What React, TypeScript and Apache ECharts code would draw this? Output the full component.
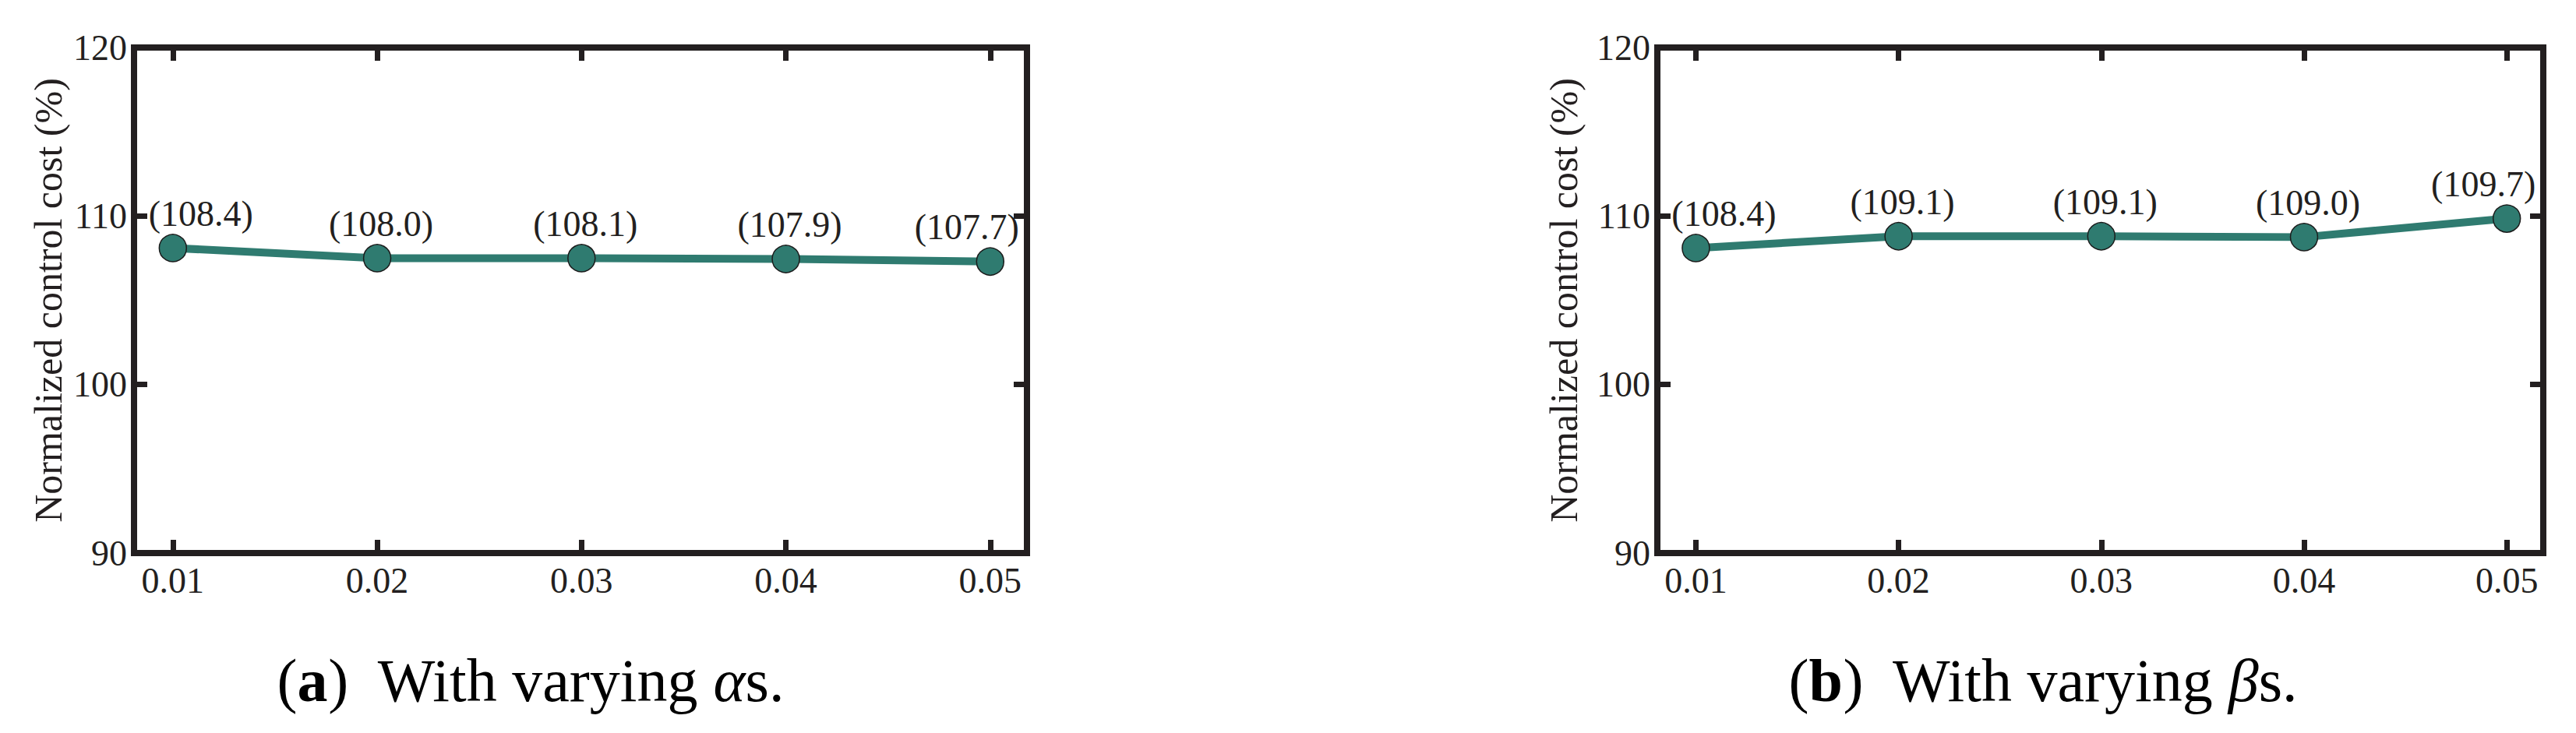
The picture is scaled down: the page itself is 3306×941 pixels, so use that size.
import React, { useEffect, useRef } from 'react';
import * as echarts from 'echarts';

// ---- data ----
const xValues = [0.01, 0.02, 0.03, 0.04, 0.05];
const yTicks = [90, 100, 110, 120];
// printed labels
const alphaLabels = [108.4, 108.0, 108.1, 107.9, 107.7];
const betaLabels = [108.4, 109.1, 109.1, 109.0, 109.7];
// where the markers sit on the y scale
const alphaPlotted = [108.1, 107.5, 107.5, 107.45, 107.3];
const betaPlotted = [108.1, 108.8, 108.8, 108.75, 109.85];
const yTitle = 'Normalized control cost (%)';

const INK = '#231f20';
const TEAL = '#2f7b70';
const FONT = '"Liberation Serif", "Times New Roman", Times, serif';

function labelShift(i: number, n: number) {
  if (i === 0) return 36;
  if (i === n - 1) return -30;
  return 5;
}

function buildPanel(idx: number, left: number, width: number, nameGap: number, plotted: number[], labels: number[]) {
  const axisLine = { lineStyle: { color: INK, width: 8, cap: 'square' } };
  const tick = { inside: true, length: 17, lineStyle: { color: INK, width: 7 } };
  const grid = { left, top: 61, width, height: 649 };
  const xMin = 0.0081;
  const xMax = 0.0518;
  const xAxes = [
    {
      gridIndex: idx,
      type: 'value',
      position: 'bottom',
      min: xMin,
      max: xMax,
      axisLine,
      axisTick: { ...tick, customValues: xValues },
      axisLabel: {
        customValues: xValues,
        formatter: (v: number) => v.toFixed(2),
        fontSize: 46,
        fontFamily: FONT,
        color: INK,
        margin: 12,
      },
      splitLine: { show: false },
    },
    {
      gridIndex: idx,
      type: 'value',
      position: 'top',
      min: xMin,
      max: xMax,
      axisLine,
      axisTick: { ...tick, customValues: xValues },
      axisLabel: { show: false },
      splitLine: { show: false },
    },
  ];
  const yAxes = [
    {
      gridIndex: idx,
      type: 'value',
      position: 'left',
      min: yTicks[0],
      max: yTicks[yTicks.length - 1],
      interval: yTicks[1] - yTicks[0],
      axisLine,
      axisTick: tick,
      axisLabel: { fontSize: 46, fontFamily: FONT, color: INK, margin: 9 },
      splitLine: { show: false },
      name: yTitle,
      nameLocation: 'middle',
      nameGap,
      nameTextStyle: { fontSize: 50, fontFamily: FONT, color: INK },
    },
    {
      gridIndex: idx,
      type: 'value',
      position: 'right',
      min: yTicks[0],
      max: yTicks[yTicks.length - 1],
      interval: yTicks[1] - yTicks[0],
      axisLine,
      axisTick: tick,
      axisLabel: { show: false },
      splitLine: { show: false },
    },
  ];
  const n = xValues.length;
  const series = {
    type: 'line',
    xAxisIndex: idx * 2,
    yAxisIndex: idx * 2,
    symbol: 'circle',
    symbolSize: 35,
    z: 5,
    lineStyle: { color: TEAL, width: 10 },
    itemStyle: { color: TEAL, borderColor: '#1b1b1b', borderWidth: 1.5 },
    label: {
      show: true,
      position: 'top',
      distance: 3,
      fontSize: 46,
      fontFamily: FONT,
      color: INK,
    },
    data: xValues.map((x, i) => ({
      value: [x, plotted[i]],
      label: {
        formatter: `(${labels[i].toFixed(1)})`,
        offset: [labelShift(i, n), 0],
      },
    })),
  };
  return { grid, xAxes, yAxes, series };
}

function caption(x: number, letter: string, greek: string) {
  return {
    type: 'text',
    x,
    y: 873,
    style: {
      text: `{p|(}{b|${letter}}{p|)  With varying }{i|${greek}}{p|s.}`,
      align: 'center',
      verticalAlign: 'middle',
      fontSize: 78,
      fontFamily: FONT,
      fill: '#000',
      rich: {
        p: { fontSize: 78, fontFamily: FONT, fill: '#000' },
        b: { fontSize: 78, fontFamily: FONT, fontWeight: 'bold', fill: '#000' },
        i: { fontSize: 78, fontFamily: FONT, fontStyle: 'italic', fill: '#000' },
      },
    },
  };
}

export default function App() {
  const ref = useRef<HTMLDivElement>(null);
  useEffect(() => {
    document.body.style.margin = '0';
    if (!ref.current) return;
    const chart = echarts.init(ref.current, undefined, { renderer: 'svg' });
    const a = buildPanel(0, 172, 1146, 85, alphaPlotted, alphaLabels);
    const b = buildPanel(1, 2127, 1137, 95, betaPlotted, betaLabels);
    chart.setOption({
      animation: false,
      backgroundColor: '#ffffff',
      grid: [a.grid, b.grid],
      xAxis: [...a.xAxes, ...b.xAxes],
      yAxis: [...a.yAxes, ...b.yAxes],
      series: [a.series, b.series],
      graphic: [caption(681, 'a', 'α'), caption(2622, 'b', 'β')],
    });
    return () => chart.dispose();
  }, []);
  return <div ref={ref} style={{ width: 3306, height: 941 }} />;
}
